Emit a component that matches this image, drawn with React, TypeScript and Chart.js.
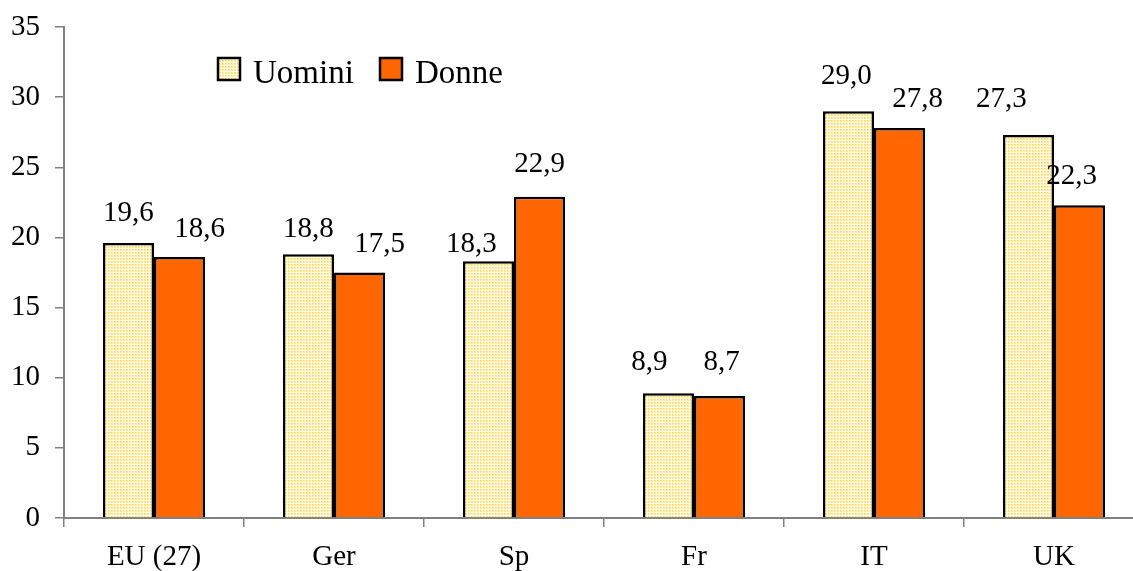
import React, { useEffect, useRef } from "react";
import { Chart, registerables } from "chart.js";

Chart.register(...registerables);

const categories = ["EU (27)", "Ger", "Sp", "Fr", "IT", "UK"];
const uomini = [19.6, 18.8, 18.3, 8.9, 29.0, 27.3];
const donne = [18.6, 17.5, 22.9, 8.7, 27.8, 22.3];
const seriesNames = ["Uomini", "Donne"];

const FONT = "'Liberation Serif', 'Times New Roman', serif";

function makePattern(): CanvasPattern | string {
  const c = document.createElement("canvas");
  c.width = 3;
  c.height = 3;
  const g = c.getContext("2d");
  if (!g) return "#FFEFB0";
  g.fillStyle = "#FFFBE8";
  g.fillRect(0, 0, 3, 3);
  g.fillStyle = "#FFE690";
  g.fillRect(0, 0, 2, 2);
  g.fillStyle = "#FFD44F";
  g.fillRect(0, 0, 1, 1);
  const p = g.createPattern(c, "repeat");
  return p || "#FFEFB0";
}

// Style offsets for value labels (Excel-like manual placement), in px
const labelStyle = {
  offsets: [
    { dx: [0, 0, -17, -19, -2, -27], dy: [30, 25, 17, 31, 35, 36] },
    { dx: [20, 20, 0, 2, 18, -8], dy: [28, 28, 32, 34, 29, 29] },
  ],
};

export default function App() {
  const ref = useRef<HTMLCanvasElement | null>(null);

  useEffect(() => {
    if (!ref.current) return;
    const pattern = makePattern();

    const valueLabels = {
      id: "valueLabels",
      afterDatasetsDraw(chart: any) {
        const ctx = chart.ctx;
        ctx.save();
        ctx.font = `29px ${FONT}`;
        ctx.fillStyle = "#000";
        ctx.textAlign = "center";
        ctx.textBaseline = "middle";
        chart.data.datasets.forEach((ds: any, di: number) => {
          const meta = chart.getDatasetMeta(di);
          meta.data.forEach((el: any, i: number) => {
            const v = ds.data[i] as number;
            const off = labelStyle.offsets[di];
            ctx.fillText(
              v.toFixed(1).replace(".", ","),
              el.x + off.dx[i],
              el.y - off.dy[i]
            );
          });
        });
        ctx.restore();
      },
    };

    const customLegend = {
      id: "customLegend",
      afterDraw(chart: any) {
        const ctx = chart.ctx;
        const a = chart.chartArea;
        ctx.save();
        ctx.font = `33px ${FONT}`;
        ctx.textBaseline = "alphabetic";
        ctx.textAlign = "left";
        const items = [
          { x: a.left + 154, fill: chart.data.datasets[0].backgroundColor, text: chart.data.datasets[0].label },
          { x: a.left + 316, fill: chart.data.datasets[1].backgroundColor, text: chart.data.datasets[1].label },
        ];
        const top = a.top + 31;
        items.forEach((it) => {
          ctx.fillStyle = it.fill;
          ctx.fillRect(it.x, top, 22, 22);
          ctx.lineWidth = 2.5;
          ctx.strokeStyle = "#000";
          ctx.strokeRect(it.x, top, 22, 22);
          ctx.fillStyle = "#000";
          ctx.fillText(it.text, it.x + 35, top + 25);
        });
        ctx.restore();
      },
    };

    const chart = new Chart(ref.current, {
      type: "bar",
      data: {
        labels: categories,
        datasets: [
          {
            label: seriesNames[0],
            data: uomini,
            backgroundColor: pattern as any,
            borderColor: "#000",
            borderWidth: 2.5,
            borderSkipped: "bottom",
            categoryPercentage: 0.567,
            barPercentage: 1.0,
          },
          {
            label: seriesNames[1],
            data: donne,
            backgroundColor: "#FF6600",
            borderColor: "#000",
            borderWidth: 2.5,
            borderSkipped: "bottom",
            categoryPercentage: 0.567,
            barPercentage: 1.0,
          },
        ],
      },
      options: {
        responsive: false,
        animation: false,
        layout: { padding: { top: 27, left: 0, right: 1, bottom: 0 } },
        plugins: {
          legend: { display: false },
          tooltip: { enabled: false },
        },
        scales: {
          x: {
            offset: true,
            grid: {
              offset: true,
              drawOnChartArea: false,
              drawTicks: true,
              tickLength: 9,
              color: "#808080",
              lineWidth: 1.5,
            },
            border: { display: true, color: "#808080", width: 2 },
            ticks: {
              color: "#000",
              font: { family: FONT, size: 29 },
              padding: 13,
              maxRotation: 0,
              autoSkip: false,
            },
            afterFit(scale: any) {
              scale.height = 53;
              scale.paddingLeft = 0;
              scale.paddingRight = 0;
            },
          },
          y: {
            min: 0,
            max: 35,
            grid: {
              drawOnChartArea: false,
              drawTicks: true,
              tickLength: 9,
              color: "#808080",
              lineWidth: 1.5,
            },
            border: { display: true, color: "#808080", width: 2 },
            ticks: {
              stepSize: 5,
              color: "#000",
              font: { family: FONT, size: 29 },
              padding: 15,
            },
            afterFit(scale: any) {
              scale.width = 64;
              scale.paddingTop = 0;
              scale.paddingBottom = 0;
            },
          },
        },
      },
      plugins: [valueLabels, customLegend],
    });

    return () => chart.destroy();
  }, []);

  return (
    <div
      style={{
        position: "fixed",
        left: 0,
        top: 0,
        width: 1133,
        height: 571,
        overflow: "hidden",
        background: "#fff",
      }}
    >
      <canvas ref={ref} width={1145} height={571} style={{ display: "block" }} />
    </div>
  );
}
